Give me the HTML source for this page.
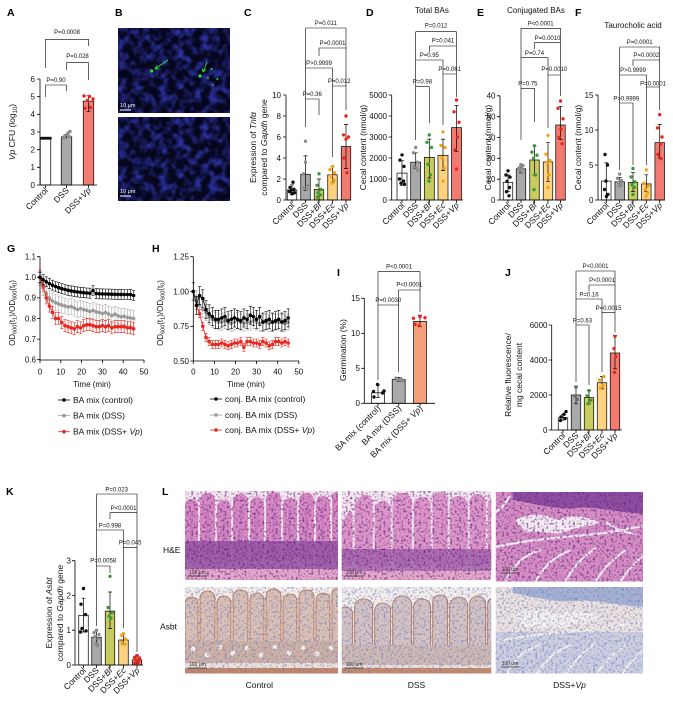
<!DOCTYPE html>
<html><head><meta charset="utf-8"><style>
html,body{margin:0;padding:0;background:#fff;}
svg{display:block;font-family:"Liberation Sans",Arial,sans-serif;}
.ax{stroke:#000;stroke-width:.8;fill:none}
.br{stroke:#000;stroke-width:.6;fill:none}
.eb{stroke:#000;stroke-width:.7;fill:none}
.tk{font-size:8px;text-anchor:end;fill:#111}
.tx{font-size:8px;text-anchor:middle;fill:#111}
.pv{font-size:6px;text-anchor:middle;fill:#111}
.yl{font-size:8.5px;text-anchor:middle;fill:#111}
.xl{font-size:8.5px;text-anchor:end;fill:#111}
.ti{font-size:8px;text-anchor:middle;fill:#111}
.L{font-size:10.5px;font-weight:bold;fill:#000}
.lg{font-size:8.5px;fill:#111}
.k{fill:#111}.g{fill:#8c8c8c}.gr{fill:#3b9a3b}.o{fill:#f4a21c}.r{fill:#e8261e}
.bw{fill:#fff;stroke:#000;stroke-width:.7}
.bg{fill:#a9a9a9;stroke:#000;stroke-width:.7}
.bb{fill:#c8cb5e;stroke:#000;stroke-width:.7}
.be{fill:#fed27e;stroke:#000;stroke-width:.7}
.bv{fill:#f27b71;stroke:#000;stroke-width:.7}
</style></head><body>
<svg width="673" height="706" viewBox="0 0 673 706">
<defs>
<filter id="nuc" x="0" y="0" width="100%" height="100%" color-interpolation-filters="sRGB"><feTurbulence type="fractalNoise" baseFrequency="0.12" numOctaves="2" seed="7"/><feColorMatrix values="0 0 0 0 0.17  0 0 0 0 0.19  0 0 0 0 0.62  2.8 0 0 0 -1.15"/></filter>
<filter id="spk" x="0" y="0" width="100%" height="100%" color-interpolation-filters="sRGB"><feTurbulence type="fractalNoise" baseFrequency="0.45" numOctaves="1" seed="4"/><feColorMatrix values="0 0 0 0 0.4  0 0 0 0 0.12  0 0 0 0 0.5  2.6 0 0 0 -1.25"/></filter>
<filter id="spb" x="0" y="0" width="100%" height="100%" color-interpolation-filters="sRGB"><feTurbulence type="fractalNoise" baseFrequency="0.45" numOctaves="1" seed="9"/><feColorMatrix values="0 0 0 0 0.42  0 0 0 0 0.48  0 0 0 0 0.75  2.4 0 0 0 -1.15"/></filter>
<marker id="mGk" markerUnits="userSpaceOnUse" markerWidth="10" markerHeight="30" viewBox="-5 -15 10 30" refX="0" refY="0" overflow="visible"><path d="M0-5V5M-1.6-5H1.6M-1.6 5H1.6" stroke="#000" stroke-width=".6" fill="none"/><circle r="1.8" fill="#000"/></marker>
<marker id="mGg" markerUnits="userSpaceOnUse" markerWidth="10" markerHeight="30" viewBox="-5 -15 10 30" refX="0" refY="0" overflow="visible"><path d="M0-8V8M-1.6-8H1.6M-1.6 8H1.6" stroke="#aaa" stroke-width=".6" fill="none"/><circle r="1.8" fill="#999"/></marker>
<marker id="mGr" markerUnits="userSpaceOnUse" markerWidth="10" markerHeight="30" viewBox="-5 -15 10 30" refX="0" refY="0" overflow="visible"><path d="M0-6V6M-1.6-6H1.6M-1.6 6H1.6" stroke="#e8261e" stroke-width=".6" fill="none"/><circle r="1.8" fill="#e8261e"/></marker>
<marker id="mHk" markerUnits="userSpaceOnUse" markerWidth="10" markerHeight="30" viewBox="-5 -15 10 30" refX="0" refY="0" overflow="visible"><path d="M0-9V9M-1.6-9H1.6M-1.6 9H1.6" stroke="#000" stroke-width=".6" fill="none"/><circle r="1.8" fill="#000"/></marker>
<marker id="mHg" markerUnits="userSpaceOnUse" markerWidth="10" markerHeight="30" viewBox="-5 -15 10 30" refX="0" refY="0" overflow="visible"><path d="M0-8V8M-1.6-8H1.6M-1.6 8H1.6" stroke="#aaa" stroke-width=".6" fill="none"/><circle r="1.8" fill="#999"/></marker>
<marker id="mHr" markerUnits="userSpaceOnUse" markerWidth="10" markerHeight="30" viewBox="-5 -15 10 30" refX="0" refY="0" overflow="visible"><path d="M0-4V4M-1.6-4H1.6M-1.6 4H1.6" stroke="#e8261e" stroke-width=".6" fill="none"/><circle r="1.8" fill="#e8261e"/></marker>
</defs>

<!-- Panel letters -->
<text class="L" x="7" y="16">A</text>
<text class="L" x="115" y="16">B</text>
<text class="L" x="244" y="16">C</text>
<text class="L" x="366" y="16">D</text>
<text class="L" x="477" y="16">E</text>
<text class="L" x="575" y="16">F</text>
<text class="L" x="7" y="252">G</text>
<text class="L" x="152" y="252">H</text>
<text class="L" x="337" y="276">I</text>
<text class="L" x="505" y="276">J</text>
<text class="L" x="6" y="495">K</text>
<text class="L" x="162" y="495">L</text>

<!-- ===== Panel A ===== -->
<rect class="bw" x="40.25" y="138.2" width="10.5" height="46.8"/>
<rect class="bg" x="61.25" y="136.8" width="10.5" height="48.2"/>
<rect class="bv" x="83.25" y="101.1" width="10.5" height="83.9" style="fill:#f27c74"/>
<path class="eb" d="M66.5 134.6V138.2M64.5 134.6H68.5M88.5 95.8V111.7M86.5 95.8H90.5M86.5 111.7H90.5"/>
<g class="k"><circle cx="41.5" cy="138.2" r="1.5"/><circle cx="43" cy="138.2" r="1.5"/><circle cx="44.5" cy="138.2" r="1.5"/><circle cx="46" cy="138.2" r="1.5"/><circle cx="47.5" cy="138.2" r="1.5"/><circle cx="49" cy="138.2" r="1.5"/><circle cx="50.3" cy="138.2" r="1.5"/></g>
<g class="g"><circle cx="63" cy="137.5" r="1.7"/><circle cx="65" cy="135.5" r="1.7"/><circle cx="68" cy="133" r="1.7"/><circle cx="70" cy="131.5" r="1.7"/><circle cx="64.5" cy="138" r="1.7"/><circle cx="69" cy="136.5" r="1.7"/></g>
<g class="r"><circle cx="84" cy="96" r="1.7"/><circle cx="89.5" cy="96.5" r="1.7"/><circle cx="93" cy="99" r="1.7"/><circle cx="87.5" cy="100.5" r="1.7"/><circle cx="85" cy="108.3" r="1.7"/><circle cx="90.5" cy="107.5" r="1.7"/></g>
<path class="ax" d="M40 79V185H97M37 79H40M37 96.7H40M37 114.3H40M37 132H40M37 149.7H40M37 167.3H40M37 185H40M45.5 185V188M66.5 185V188M88.5 185V188"/>
<text class="tk" x="35" y="81.8">6</text><text class="tk" x="35" y="99.5">5</text><text class="tk" x="35" y="117.1">4</text><text class="tk" x="35" y="134.8">3</text><text class="tk" x="35" y="152.5">2</text><text class="tk" x="35" y="170.1">1</text><text class="tk" x="35" y="187.8">0</text>
<text class="yl" transform="translate(15,132) rotate(-90)"><tspan font-style="italic">Vp</tspan> CFU (log<tspan font-size="6" dy="2">10</tspan><tspan dy="-2">)</tspan></text>
<text class="xl" transform="translate(48.5,191) rotate(-45)">Control</text>
<text class="xl" transform="translate(69.5,191) rotate(-45)">DSS</text>
<text class="xl" transform="translate(91.5,191) rotate(-45)">DSS+<tspan font-style="italic">Vp</tspan></text>
<path class="br" d="M45.5 68V39.3H88.5V46"/>
<path class="br" d="M66.5 70V62.7H88.5V80"/>
<path class="br" d="M45.5 97V85H66.5V91"/>
<text class="pv" x="67" y="34">P=0.0008</text>
<text class="pv" x="77.5" y="58">P=0.028</text>
<text class="pv" x="56" y="82">P=0.90</text>

<!-- ===== Panel B ===== -->
<svg x="118" y="28" width="112" height="85">
<rect width="112" height="85" fill="#06071f"/>
<rect width="112" height="85" filter="url(#nuc)"/>
<g fill="#2ee03a"><circle cx="33.7" cy="43" r="1.6"/><circle cx="82" cy="48" r="1.6"/><circle cx="93.7" cy="41" r="1"/><circle cx="99.3" cy="51" r="1"/><circle cx="90" cy="50" r="0.9"/><circle cx="95" cy="57" r="0.8"/></g>
<path d="M50 32L37 41M37 41L41.5 40.8M37 41L38.8 37.2" stroke="#2ee03a" stroke-width="0.9" fill="none"/>
<path d="M89 34L85 44M85 44L88 41.3M85 44L84.3 40.5" stroke="#2ee03a" stroke-width="0.9" fill="none"/>
<text x="2" y="79" font-size="5.5" fill="#fff">10 μm</text>
<path d="M2 82H13" stroke="#fff" stroke-width="1"/>
</svg>
<svg x="118" y="117" width="112" height="84">
<rect width="112" height="84" fill="#06071f"/>
<rect width="112" height="84" filter="url(#nuc)"/>
<text x="2" y="76" font-size="5.5" fill="#fff">10 μm</text>
<path d="M2 79H13" stroke="#fff" stroke-width="1"/>
</svg>

<!-- ===== Panel C ===== -->
<rect class="bw" x="287.25" y="190" width="9.5" height="10"/>
<rect class="bg" x="300.75" y="174.3" width="9.5" height="25.7"/>
<rect class="bb" x="314.25" y="189.5" width="9.5" height="10.5"/>
<rect class="be" x="327.75" y="174.8" width="9.5" height="25.2"/>
<rect class="bv" x="341.25" y="146.5" width="9.5" height="53.5"/>
<path class="eb" d="M292 184.8V194.8M290 184.8H294M290 194.8H294M305.5 155.9V190.5M303.5 155.9H307.5M303.5 190.5H307.5M319 179V200M317 179H321M332.5 166.4V182.2M330.5 166.4H334.5M330.5 182.2H334.5M346 124.4V168.5M344 124.4H348M344 168.5H348"/>
<g class="k"><circle cx="293" cy="182.2" r="1.7"/><circle cx="290" cy="187.4" r="1.7"/><circle cx="294" cy="189.5" r="1.7"/><circle cx="291" cy="190.6" r="1.7"/><circle cx="289.5" cy="191.6" r="1.7"/><circle cx="294.5" cy="192.7" r="1.7"/><circle cx="292" cy="193.7" r="1.7"/></g>
<g class="g"><circle cx="305.5" cy="141.2" r="1.7"/><circle cx="305.5" cy="162.2" r="1.7"/><circle cx="303.5" cy="173.8" r="1.7"/><circle cx="307.5" cy="185.3" r="1.7"/><circle cx="304" cy="187.4" r="1.7"/><circle cx="307" cy="189.5" r="1.7"/></g>
<g class="gr"><circle cx="319" cy="173.8" r="1.7"/><circle cx="317" cy="185.3" r="1.7"/><circle cx="321" cy="189.5" r="1.7"/><circle cx="318" cy="192.7" r="1.7"/><circle cx="320.5" cy="194.8" r="1.7"/><circle cx="317.5" cy="196.9" r="1.7"/></g>
<g class="o"><circle cx="332.5" cy="166.4" r="1.7"/><circle cx="330" cy="169.6" r="1.7"/><circle cx="334.5" cy="172.7" r="1.7"/><circle cx="331" cy="175.9" r="1.7"/><circle cx="334" cy="180.1" r="1.7"/><circle cx="332" cy="183.2" r="1.7"/></g>
<g class="r"><circle cx="346" cy="116" r="1.7"/><circle cx="343.5" cy="134.9" r="1.7"/><circle cx="348.5" cy="137" r="1.7"/><circle cx="346" cy="139.1" r="1.7"/><circle cx="344" cy="158" r="1.7"/><circle cx="347" cy="172.7" r="1.7"/></g>
<path class="ax" d="M286 95V200H351M283 95H286M283 116H286M283 137H286M283 158H286M283 179H286M283 200H286M292 200V203M305.5 200V203M319 200V203M332.5 200V203M346 200V203"/>
<text class="tk" x="281" y="97.8">10</text><text class="tk" x="281" y="118.8">8</text><text class="tk" x="281" y="139.8">6</text><text class="tk" x="281" y="160.8">4</text><text class="tk" x="281" y="181.8">2</text><text class="tk" x="281" y="202.8">0</text>
<text class="yl" transform="translate(256,147.5) rotate(-90)">Expression of <tspan font-style="italic">Tnfα</tspan></text>
<text class="yl" transform="translate(267,147.5) rotate(-90)">compared to <tspan font-style="italic">Gapdh</tspan> gene</text>
<text class="xl" transform="translate(295,206) rotate(-45)">Control</text>
<text class="xl" transform="translate(308.5,206) rotate(-45)">DSS</text>
<text class="xl" transform="translate(322,206) rotate(-45)">DSS+<tspan font-style="italic">Bf</tspan></text>
<text class="xl" transform="translate(335.5,206) rotate(-45)">DSS+<tspan font-style="italic">Ec</tspan></text>
<text class="xl" transform="translate(349,206) rotate(-45)">DSS+<tspan font-style="italic">Vp</tspan></text>
<path class="br" d="M305.5 28V127M346 28V110M305.5 28H346M319 56V48H346M305.5 68H332.5V157M332.5 86H346M305.5 99H319V115"/>
<text class="pv" x="325.8" y="25">P=0.011</text>
<text class="pv" x="332.5" y="45">P=0.0001</text>
<text class="pv" x="319" y="65">P&gt;0.9999</text>
<text class="pv" x="339.2" y="83">P=0.012</text>
<text class="pv" x="312.2" y="96">P=0.36</text>

<!-- ===== Panel D ===== -->
<text class="ti" x="432" y="13">Total BAs</text>
<rect class="bw" x="397" y="173.1" width="10" height="26.9"/>
<rect class="bg" x="410.7" y="162.2" width="10" height="37.8"/>
<rect class="bb" x="424.3" y="157.4" width="10" height="42.6"/>
<rect class="be" x="438" y="155.3" width="10" height="44.7"/>
<rect class="bv" x="451.5" y="127.6" width="10" height="72.4"/>
<path class="eb" d="M402 160.7V185.3M400 160.7H404M400 185.3H404M415.7 152.8V168.5M413.7 152.8H417.7M413.7 168.5H417.7M429.3 139.1V178M427.3 139.1H431.3M427.3 178H431.3M443 139.1V170.6M441 139.1H445M441 170.6H445M456.5 105.5V151.7M454.5 105.5H458.5M454.5 151.7H458.5"/>
<g class="k"><circle cx="402" cy="154.9" r="1.7"/><circle cx="400" cy="160.1" r="1.7"/><circle cx="404" cy="166.4" r="1.7"/><circle cx="399.5" cy="179" r="1.7"/><circle cx="403.5" cy="181.1" r="1.7"/><circle cx="401" cy="183.2" r="1.7"/><circle cx="404.5" cy="184.3" r="1.7"/></g>
<g class="g"><circle cx="415.7" cy="147.5" r="1.7"/><circle cx="413.5" cy="152.8" r="1.7"/><circle cx="417.5" cy="162.2" r="1.7"/><circle cx="414" cy="166.4" r="1.7"/><circle cx="416.5" cy="168.5" r="1.7"/><circle cx="418" cy="170.6" r="1.7"/></g>
<g class="gr"><circle cx="429.3" cy="134.9" r="1.7"/><circle cx="427" cy="142.3" r="1.7"/><circle cx="431.5" cy="147.5" r="1.7"/><circle cx="428" cy="164.3" r="1.7"/><circle cx="430.5" cy="174.8" r="1.7"/><circle cx="429" cy="181.1" r="1.7"/></g>
<g class="o"><circle cx="443" cy="131.8" r="1.7"/><circle cx="441" cy="145.4" r="1.7"/><circle cx="445" cy="147.5" r="1.7"/><circle cx="442" cy="158" r="1.7"/><circle cx="444.5" cy="168.5" r="1.7"/><circle cx="443" cy="181.1" r="1.7"/></g>
<g class="r"><circle cx="456.5" cy="100" r="1.7"/><circle cx="454" cy="111.8" r="1.7"/><circle cx="459" cy="122.3" r="1.7"/><circle cx="457.5" cy="137" r="1.7"/><circle cx="455" cy="150" r="1.7"/><circle cx="456.5" cy="169.1" r="1.7"/></g>
<path class="ax" d="M391.7 95V200H463M388.7 95H391.7M388.7 116H391.7M388.7 137H391.7M388.7 158H391.7M388.7 179H391.7M388.7 200H391.7M402 200V203M415.7 200V203M429.3 200V203M443 200V203M456.5 200V203"/>
<text class="tk" x="387" y="97.8">5000</text><text class="tk" x="387" y="118.8">4000</text><text class="tk" x="387" y="139.8">3000</text><text class="tk" x="387" y="160.8">2000</text><text class="tk" x="387" y="181.8">1000</text><text class="tk" x="387" y="202.8">0</text>
<text class="yl" transform="translate(366,147.5) rotate(-90)">Cecal content (nmol/g)</text>
<text class="xl" transform="translate(405,206) rotate(-45)">Control</text>
<text class="xl" transform="translate(418.7,206) rotate(-45)">DSS</text>
<text class="xl" transform="translate(432.3,206) rotate(-45)">DSS+<tspan font-style="italic">Bf</tspan></text>
<text class="xl" transform="translate(446,206) rotate(-45)">DSS+<tspan font-style="italic">Ec</tspan></text>
<text class="xl" transform="translate(459.5,206) rotate(-45)">DSS+<tspan font-style="italic">Vp</tspan></text>
<path class="br" d="M415.7 31.7V140M456.5 31.7V97M415.7 31.7H456.5M429.3 52V46H456.5M415.7 60H443V125M443 74H456.5M415.7 86.7H429.3V123"/>
<text class="pv" x="436" y="27.5">P=0.012</text>
<text class="pv" x="443" y="42.5">P=0.041</text>
<text class="pv" x="429.3" y="57">P=0.95</text>
<text class="pv" x="449.7" y="71">P=0.061</text>
<text class="pv" x="422.5" y="83.5">P=0.98</text>

<!-- ===== Panel E ===== -->
<text class="ti" x="536" y="13">Conjugated BAs</text>
<rect class="bw" x="503.25" y="182.3" width="9.5" height="17.7"/>
<rect class="bg" x="516.25" y="168.8" width="9.5" height="31.2"/>
<rect class="bb" x="529.75" y="160" width="9.5" height="40"/>
<rect class="be" x="543.25" y="161.9" width="9.5" height="38.1"/>
<rect class="bv" x="555.75" y="125" width="9.5" height="75"/>
<path class="eb" d="M508 175V191.7M506 175H510M506 191.7H510M521 164.6V172.9M519 164.6H523M519 172.9H523M534.5 145.8V175M532.5 145.8H536.5M532.5 175H536.5M548 142.7V181.3M546 142.7H550M546 181.3H550M560.5 106.3V139.6M558.5 106.3H562.5M558.5 139.6H562.5"/>
<g class="k"><circle cx="508" cy="170.8" r="1.7"/><circle cx="506" cy="175" r="1.7"/><circle cx="510" cy="177.1" r="1.7"/><circle cx="507" cy="181.3" r="1.7"/><circle cx="509.5" cy="187.5" r="1.7"/><circle cx="506.5" cy="191.7" r="1.7"/><circle cx="509" cy="195.8" r="1.7"/></g>
<g class="g"><circle cx="521" cy="164.6" r="1.7"/><circle cx="523" cy="165.6" r="1.7"/><circle cx="519" cy="167.7" r="1.7"/><circle cx="522" cy="168.8" r="1.7"/><circle cx="520" cy="170.8" r="1.7"/><circle cx="522.5" cy="172.9" r="1.7"/></g>
<g class="gr"><circle cx="534.5" cy="145.8" r="1.7"/><circle cx="532" cy="152.1" r="1.7"/><circle cx="537" cy="155.2" r="1.7"/><circle cx="533.5" cy="158.3" r="1.7"/><circle cx="535.5" cy="175" r="1.7"/><circle cx="534" cy="189.6" r="1.7"/></g>
<g class="o"><circle cx="548" cy="135.4" r="1.7"/><circle cx="546" cy="154.2" r="1.7"/><circle cx="550" cy="160.4" r="1.7"/><circle cx="547" cy="162.5" r="1.7"/><circle cx="549" cy="175" r="1.7"/><circle cx="548" cy="187.5" r="1.7"/></g>
<g class="r"><circle cx="560.5" cy="101" r="1.7"/><circle cx="558" cy="108.3" r="1.7"/><circle cx="563" cy="118.8" r="1.7"/><circle cx="561" cy="129.2" r="1.7"/><circle cx="559" cy="137.5" r="1.7"/><circle cx="562" cy="143.8" r="1.7"/></g>
<path class="ax" d="M500 95.8V200H566M497 95.8H500M497 116.7H500M497 137.5H500M497 158.3H500M497 179.2H500M497 200H500M508 200V203M521 200V203M534.5 200V203M548 200V203M560.5 200V203"/>
<text class="tk" x="495.5" y="98.6">40</text><text class="tk" x="495.5" y="119.5">50</text><text class="tk" x="495.5" y="140.3">30</text><text class="tk" x="495.5" y="161.1">20</text><text class="tk" x="495.5" y="182">10</text><text class="tk" x="495.5" y="202.8">0</text>
<text class="yl" transform="translate(491,147.5) rotate(-90)">Cecal content (nmol/g)</text>
<text class="xl" transform="translate(511,206) rotate(-45)">Control</text>
<text class="xl" transform="translate(524,206) rotate(-45)">DSS</text>
<text class="xl" transform="translate(537.5,206) rotate(-45)">DSS+<tspan font-style="italic">Bf</tspan></text>
<text class="xl" transform="translate(551,206) rotate(-45)">DSS+<tspan font-style="italic">Ec</tspan></text>
<text class="xl" transform="translate(563.5,206) rotate(-45)">DSS+<tspan font-style="italic">Vp</tspan></text>
<path class="br" d="M521 28.3V140M560.5 28.3V96M521 28.3H560.5M534.5 49V42.7H560.5M521 57.7H548V128M548 75H560.5M521 88.3H534.5V122"/>
<text class="pv" x="540.7" y="25.5">P&lt;0.0001</text>
<text class="pv" x="547.5" y="40">P=0.0010</text>
<text class="pv" x="534.5" y="55">P=0.74</text>
<text class="pv" x="554.3" y="71">P=0.0010</text>
<text class="pv" x="527.8" y="85.5">P=0.75</text>

<!-- ===== Panel F ===== -->
<text class="ti" x="633" y="28">Taurocholic acid</text>
<rect class="bw" x="601.55" y="181.1" width="9.5" height="18.9"/>
<rect class="bg" x="614.95" y="181.8" width="9.5" height="18.2"/>
<rect class="bb" x="628.25" y="182.5" width="9.5" height="17.5"/>
<rect class="be" x="641.55" y="183.9" width="9.5" height="16.1"/>
<rect class="bv" x="654.95" y="142.6" width="9.5" height="57.4"/>
<path class="eb" d="M606.3 162.9V200M604.3 162.9H608.3M619.7 177.6V186M617.7 177.6H621.7M617.7 186H621.7M633 172.7V191.6M631 172.7H635M631 191.6H635M646.3 174.8V191.6M644.3 174.8H648.3M644.3 191.6H648.3M659.7 124.4V158M657.7 124.4H661.7M657.7 158H661.7"/>
<g class="k"><circle cx="605" cy="154.5" r="1.7"/><circle cx="607.5" cy="165" r="1.7"/><circle cx="606" cy="181.1" r="1.7"/><circle cx="604.5" cy="189.5" r="1.7"/><circle cx="608" cy="194.4" r="1.7"/><circle cx="606.5" cy="196.5" r="1.7"/></g>
<g class="g"><circle cx="619.7" cy="174.1" r="1.7"/><circle cx="617.5" cy="178.3" r="1.7"/><circle cx="621.5" cy="180.4" r="1.7"/><circle cx="618.5" cy="182.5" r="1.7"/><circle cx="621" cy="184.6" r="1.7"/><circle cx="619" cy="186" r="1.7"/></g>
<g class="gr"><circle cx="633" cy="168.5" r="1.7"/><circle cx="631" cy="176.9" r="1.7"/><circle cx="635" cy="181.8" r="1.7"/><circle cx="632" cy="184.6" r="1.7"/><circle cx="634.5" cy="187.4" r="1.7"/><circle cx="633" cy="194.4" r="1.7"/></g>
<g class="o"><circle cx="646.3" cy="169.9" r="1.7"/><circle cx="644" cy="183.2" r="1.7"/><circle cx="648.5" cy="186" r="1.7"/><circle cx="645.5" cy="189.5" r="1.7"/><circle cx="647.5" cy="193" r="1.7"/><circle cx="646" cy="196.5" r="1.7"/></g>
<g class="r"><circle cx="659.7" cy="114.6" r="1.7"/><circle cx="657.5" cy="127.9" r="1.7"/><circle cx="662" cy="137" r="1.7"/><circle cx="660.5" cy="144" r="1.7"/><circle cx="658" cy="154.5" r="1.7"/><circle cx="661" cy="158.7" r="1.7"/></g>
<path class="ax" d="M598 95V200H665M595 95H598M595 130H598M595 165H598M595 200H598M606.3 200V203M619.7 200V203M633 200V203M646.3 200V203M659.7 200V203"/>
<text class="tk" x="593.5" y="97.8">15</text><text class="tk" x="593.5" y="132.8">10</text><text class="tk" x="593.5" y="167.8">5</text><text class="tk" x="593.5" y="202.8">0</text>
<text class="yl" transform="translate(581,147.5) rotate(-90)">Cecal content (nmol/g)</text>
<text class="xl" transform="translate(609.3,206) rotate(-45)">Control</text>
<text class="xl" transform="translate(622.7,206) rotate(-45)">DSS</text>
<text class="xl" transform="translate(636,206) rotate(-45)">DSS+<tspan font-style="italic">Bf</tspan></text>
<text class="xl" transform="translate(649.3,206) rotate(-45)">DSS+<tspan font-style="italic">Ec</tspan></text>
<text class="xl" transform="translate(662.7,206) rotate(-45)">DSS+<tspan font-style="italic">Vp</tspan></text>
<path class="br" d="M619.7 47V170M659.7 47V110M619.7 47H659.7M633 66V60H659.7M619.7 75H646.3V165M646.3 87H659.7M619.7 103H633V165"/>
<text class="pv" x="639.7" y="44">P=0.0001</text>
<text class="pv" x="646.3" y="57">P=0.0002</text>
<text class="pv" x="633" y="72">P&gt;0.9999</text>
<text class="pv" x="653" y="85.5">P=0.0001</text>
<text class="pv" x="626.3" y="100.5">P&gt;0.9999</text>

<!-- ===== Panel G ===== -->
<polyline points="40,277.3 43.1,287.6 46.2,294 49.4,298.1 52.5,300.9 55.6,302.7 58.7,304.1 61.8,305.1 65,306 68.1,307 71.2,306.5 74.3,308.1 77.4,309.5 80.6,308.6 83.7,309.7 86.8,310.3 89.9,311.5 93,310.4 96.2,311.9 99.3,312.5 102.4,313.5 105.5,312.6 108.6,314.1 111.8,315.6 114.9,314.2 118,315.8 121.1,316.8 124.2,316.3 127.4,317.4 130.5,317.9 133.6,318.5" fill="none" stroke="#999" stroke-width=".8" marker-start="url(#mGg)" marker-mid="url(#mGg)" marker-end="url(#mGg)"/>
<polyline points="40,277.3 43.1,285.5 46.2,297.9 49.4,306.1 52.5,312.3 55.6,318.5 58.7,318.5 61.8,322.6 65,325.7 68.1,326.7 71.2,327.8 74.3,328.8 77.4,326.7 80.6,327.8 83.7,325.7 86.8,324.7 89.9,324.7 93,325.7 96.2,326.7 99.3,326.7 102.4,325.7 105.5,326.7 108.6,325.7 111.8,327.8 114.9,326.7 118,326.7 121.1,326.7 124.2,326.7 127.4,327.8 130.5,327.8 133.6,328.8" fill="none" stroke="#e8261e" stroke-width=".8" marker-start="url(#mGr)" marker-mid="url(#mGr)" marker-end="url(#mGr)"/>
<polyline points="40,277.3 43.1,279.7 46.2,281.8 49.4,283.6 52.5,285.2 55.6,286.5 58.7,287.7 61.8,288.7 65,289.5 68.1,290.3 71.2,290.9 74.3,291.4 77.4,291.9 80.6,292.3 83.7,292.7 86.8,293 89.9,293.2 93,290.5 96.2,293.6 99.3,293.8 102.4,293.9 105.5,294 108.6,294.1 111.8,294.2 114.9,294.3 118,294.4 121.1,294.4 124.2,294.5 127.4,294.5 130.5,294.6 133.6,295.5" fill="none" stroke="#000" stroke-width=".8" marker-start="url(#mGk)" marker-mid="url(#mGk)" marker-end="url(#mGk)"/>
<path class="ax" d="M40 256.7V360H144M37 256.7H40M37 277.3H40M37 297.9H40M37 318.5H40M37 339.1H40M37 359.7H40M40 360V363M60.8 360V363M81.6 360V363M102.4 360V363M123.2 360V363M144 360V363"/>
<text class="tk" x="36" y="259.5">1.1</text><text class="tk" x="36" y="280.1">1.0</text><text class="tk" x="36" y="300.7">0.9</text><text class="tk" x="36" y="321.3">0.8</text><text class="tk" x="36" y="341.9">0.7</text><text class="tk" x="36" y="362.5">0.6</text>
<text class="tx" x="40" y="374.5">0</text><text class="tx" x="60.8" y="374.5">10</text><text class="tx" x="81.6" y="374.5">20</text><text class="tx" x="102.4" y="374.5">30</text><text class="tx" x="123.2" y="374.5">40</text><text class="tx" x="144" y="374.5">50</text>
<text class="yl" x="92" y="387" style="font-size:8px">Time (min)</text>
<text class="yl" style="font-size:8px" transform="translate(15,313) rotate(-90)">OD<tspan font-size="5.5" dy="1.5">600</tspan><tspan dy="-1.5">(t</tspan><tspan font-size="5.5" dy="1.5">1</tspan><tspan dy="-1.5">)/OD</tspan><tspan font-size="5.5" dy="1.5">600</tspan><tspan dy="-1.5">(t</tspan><tspan font-size="5.5" dy="1.5">0</tspan><tspan dy="-1.5">)</tspan></text>
<path d="M58 400H70" stroke="#000" stroke-width=".8"/><circle cx="64" cy="400" r="1.8" fill="#000"/>
<text class="lg" x="73" y="403">BA mix (control)</text>
<path d="M58 415.7H70" stroke="#999" stroke-width=".8"/><circle cx="64" cy="415.7" r="1.8" fill="#999"/>
<text class="lg" x="73" y="418.7">BA mix (DSS)</text>
<path d="M58 431.7H70" stroke="#e8261e" stroke-width=".8"/><circle cx="64" cy="431.7" r="1.8" fill="#e8261e"/>
<text class="lg" x="73" y="434.7">BA mix (DSS+ <tspan font-style="italic">Vp</tspan>)</text>

<!-- ===== Panel H ===== -->
<polyline points="193.3,291.5 196.5,298.5 199.6,305.4 202.8,309.6 206,312.4 209.1,316.6 212.3,319.3 215.5,320.7 218.6,322.1 221.8,322.1 224.9,320.7 228.1,322.1 231.3,323.5 234.4,322.1 237.6,320.7 240.8,322.1 243.9,323.5 247.1,322.1 250.3,322.1 253.4,320.7 256.6,322.1 259.7,323.5 262.9,322.1 266.1,322.1 269.2,323.5 272.4,322.1 275.6,322.1 278.7,322.1 281.9,322.1 285,323.5 288.2,322.1" fill="none" stroke="#999" stroke-width=".8" marker-start="url(#mHg)" marker-mid="url(#mHg)" marker-end="url(#mHg)"/>
<polyline points="196.5,305.4 199.6,313.8 202.8,326.3 206,337.4 209.1,341.6 212.3,344.4 215.5,344.4 218.6,344.4 221.8,343 224.9,344.4 228.1,345.8 231.3,344.4 234.4,343 237.6,343 240.8,341.6 243.9,347.2 247.1,341.6 250.3,341.6 253.4,343 256.6,343 259.7,344.4 262.9,341.6 266.1,343 269.2,345.8 272.4,344.4 275.6,341.6 278.7,341.6 281.9,343 285,341.6 288.2,343" fill="none" stroke="#e8261e" stroke-width=".8" marker-start="url(#mHr)" marker-mid="url(#mHr)" marker-end="url(#mHr)"/>
<polyline points="193.3,291.5 196.5,305.4 199.6,295.7 202.8,298.5 206,309.6 209.1,313.8 212.3,316.6 215.5,319.3 218.6,319.3 221.8,317.9 224.9,316.6 228.1,320.7 231.3,319.3 234.4,317.9 237.6,319.3 240.8,320.7 243.9,317.9 247.1,319.3 250.3,315.2 253.4,316.6 256.6,319.3 259.7,316.6 262.9,322.1 266.1,320.7 269.2,319.3 272.4,322.1 275.6,320.7 278.7,319.3 281.9,322.1 285,320.7 288.2,317.9" fill="none" stroke="#000" stroke-width=".8" marker-start="url(#mHk)" marker-mid="url(#mHk)" marker-end="url(#mHk)"/>
<path class="ax" d="M193.3 256.7V361H299M190.3 256.7H193.3M190.3 291.5H193.3M190.3 326.3H193.3M190.3 361H193.3M193.3 361V364M214.4 361V364M235.5 361V364M256.6 361V364M277.7 361V364M298.8 361V364"/>
<text class="tk" x="189" y="259.5">1.25</text><text class="tk" x="189" y="294.3">1.00</text><text class="tk" x="189" y="329.1">0.75</text><text class="tk" x="189" y="363.8">0.50</text>
<text class="tx" x="193.3" y="374.5">0</text><text class="tx" x="214.4" y="374.5">10</text><text class="tx" x="235.5" y="374.5">20</text><text class="tx" x="256.6" y="374.5">30</text><text class="tx" x="277.7" y="374.5">40</text><text class="tx" x="298.8" y="374.5">50</text>
<text class="yl" x="246" y="387" style="font-size:8px">Time (min)</text>
<text class="yl" style="font-size:8px" transform="translate(163,313) rotate(-90)">OD<tspan font-size="5.5" dy="1.5">600</tspan><tspan dy="-1.5">(t</tspan><tspan font-size="5.5" dy="1.5">1</tspan><tspan dy="-1.5">)/OD</tspan><tspan font-size="5.5" dy="1.5">600</tspan><tspan dy="-1.5">(t</tspan><tspan font-size="5.5" dy="1.5">0</tspan><tspan dy="-1.5">)</tspan></text>
<path d="M210 399H222" stroke="#000" stroke-width=".8"/><circle cx="216" cy="399" r="1.8" fill="#000"/>
<text class="lg" x="225" y="402">conj. BA mix (control)</text>
<path d="M210 415H222" stroke="#999" stroke-width=".8"/><circle cx="216" cy="415" r="1.8" fill="#999"/>
<text class="lg" x="225" y="418">conj. BA mix (DSS)</text>
<path d="M210 430H222" stroke="#e8261e" stroke-width=".8"/><circle cx="216" cy="430" r="1.8" fill="#e8261e"/>
<text class="lg" x="225" y="433">conj. BA mix (DSS+ <tspan font-style="italic">Vp</tspan>)</text>

<!-- ===== Panel I ===== -->
<rect class="bw" x="371.5" y="392.8" width="13" height="10.5"/>
<rect class="bg" x="392.2" y="379.5" width="13" height="23.8"/>
<rect class="bv" x="413.5" y="321.4" width="13" height="81.9" style="fill:#f6a07c"/>
<path class="eb" d="M378 385.1V397.7M376 385.1H380M376 397.7H380M398.7 377.4V381.6M396.7 377.4H400.7M396.7 381.6H400.7M420 315.1V326.3M418 315.1H422M418 326.3H422"/>
<g class="k"><circle cx="377.5" cy="384.5" r="1.7"/><circle cx="384" cy="391" r="1.7"/><circle cx="373.5" cy="391.5" r="1.7"/><circle cx="374" cy="397" r="1.7"/><circle cx="382.5" cy="393" r="1.7"/></g>
<g class="g"><circle cx="396" cy="378.1" r="1.7"/><circle cx="401" cy="378.8" r="1.7"/><circle cx="398.7" cy="380.2" r="1.7"/><circle cx="403" cy="380.9" r="1.7"/></g>
<g class="r"><circle cx="413.5" cy="318.3" r="1.7"/><circle cx="420" cy="316.7" r="1.7"/><circle cx="425" cy="317.7" r="1.7"/><circle cx="419" cy="325.7" r="1.7"/><circle cx="415" cy="324.3" r="1.7"/></g>
<path class="ax" d="M364.3 298.3V403.3H435M361.3 298.3H364.3M361.3 333.3H364.3M361.3 368.3H364.3M361.3 403.3H364.3M378 403.3V406.3M398.7 403.3V406.3M420 403.3V406.3"/>
<text class="tk" x="360" y="301.1">15</text><text class="tk" x="360" y="336.1">10</text><text class="tk" x="360" y="371.1">5</text><text class="tk" x="360" y="406.1">0</text>
<text class="yl" transform="translate(346,350) rotate(-90)">Germination (%)</text>
<text class="xl" transform="translate(381,409) rotate(-45)">BA mix (control)</text>
<text class="xl" transform="translate(401.7,409) rotate(-45)">BA mix (DSS)</text>
<text class="xl" transform="translate(423,409) rotate(-45)">BA mix (DSS+ <tspan font-style="italic">Vp</tspan>)</text>
<path class="br" d="M378 380V271.7H420V312M398.7 372V290H420M378 305H398.7"/>
<text class="pv" x="399" y="268.5">P&lt;0.0001</text>
<text class="pv" x="409.3" y="286.5">P&lt;0.0001</text>
<text class="pv" x="388.3" y="302">P=0.0030</text>

<!-- ===== Panel J ===== -->
<rect class="bw" x="558.25" y="417.75" width="9.5" height="12.25"/>
<rect class="bg" x="571.25" y="395" width="9.5" height="35"/>
<rect class="bb" x="584.25" y="397.6" width="9.5" height="32.4"/>
<rect class="be" x="597.25" y="382.75" width="9.5" height="47.25"/>
<rect class="bv" x="610.25" y="353" width="9.5" height="77"/>
<path class="eb" d="M563 414.5V421M561 414.5H565M576 386.3V403.8M574 386.3H578M574 403.8H578M589 390.6V403.8M587 390.6H591M587 403.8H591M602 376.6V388.9M600 376.6H604M600 388.9H604M615 335.5V368.8M613 335.5H617M613 368.8H617"/>
<g class="k"><circle cx="566" cy="411.6" r="1.7"/><circle cx="564" cy="414.3" r="1.7"/><circle cx="561" cy="416.9" r="1.7"/><circle cx="565" cy="418.6" r="1.7"/><circle cx="560.5" cy="420.4" r="1.7"/></g>
<g fill="#666"><circle cx="576" cy="387.1" r="1.7"/><circle cx="575" cy="395.9" r="1.7"/><circle cx="577" cy="399.4" r="1.7"/></g>
<g class="gr"><circle cx="589" cy="390.6" r="1.7"/><circle cx="587" cy="395.9" r="1.7"/><circle cx="591" cy="400.3" r="1.7"/><circle cx="588" cy="403.8" r="1.7"/></g>
<g class="o"><circle cx="604" cy="376.6" r="1.7"/><circle cx="599.5" cy="380.1" r="1.7"/><circle cx="603" cy="385.4" r="1.7"/><circle cx="600.5" cy="388" r="1.7"/></g>
<g class="r"><circle cx="615" cy="336.4" r="1.7"/><circle cx="614" cy="348.6" r="1.7"/><circle cx="616" cy="356.5" r="1.7"/><circle cx="614.5" cy="372.3" r="1.7"/></g>
<path class="ax" d="M551.7 325V430H622M548.7 325H551.7M548.7 360H551.7M548.7 395H551.7M548.7 430H551.7M563 430V433M576 430V433M589 430V433M602 430V433M615 430V433"/>
<text class="tk" x="547.5" y="327.8">6000</text><text class="tk" x="547.5" y="362.8">4000</text><text class="tk" x="547.5" y="397.8">2000</text><text class="tk" x="547.5" y="432.8">0</text>
<text class="yl" transform="translate(511,375) rotate(-90)">Relative fluorescence/</text>
<text class="yl" transform="translate(522,375) rotate(-90)">mg cecal content</text>
<text class="xl" transform="translate(566,436) rotate(-45)">Control</text>
<text class="xl" transform="translate(579,436) rotate(-45)">DSS</text>
<text class="xl" transform="translate(592,436) rotate(-45)">DSS+<tspan font-style="italic">Bf</tspan></text>
<text class="xl" transform="translate(605,436) rotate(-45)">DSS+<tspan font-style="italic">Ec</tspan></text>
<text class="xl" transform="translate(618,436) rotate(-45)">DSS+<tspan font-style="italic">Vp</tspan></text>
<path class="br" d="M576 271V382M615 271V332M576 271H615M589 291V285H615M576 299H602V372M602 312.3H615M576 325H589V385"/>
<text class="pv" x="595.5" y="268">P&lt;0.0001</text>
<text class="pv" x="602" y="282">P&lt;0.0001</text>
<text class="pv" x="589" y="296.5">P=0.16</text>
<text class="pv" x="608.5" y="310">P=0.0015</text>
<text class="pv" x="582.5" y="322.5">P=0.63</text>

<!-- ===== Panel K ===== -->
<rect class="bw" x="78.75" y="615.3" width="9.5" height="49.7"/>
<rect class="bg" x="91.75" y="637.2" width="9.5" height="27.8"/>
<rect class="bb" x="105.25" y="611.1" width="9.5" height="53.9"/>
<rect class="be" x="118.75" y="640" width="9.5" height="25"/>
<rect class="bv" x="132.25" y="659.8" width="9.5" height="5.2"/>
<path class="eb" d="M83.5 598.2V632M81.5 598.2H85.5M81.5 632H85.5M96.5 630.2V644.1M94.5 630.2H98.5M94.5 644.1H98.5M110 592V628.5M108 592H112M108 628.5H112M123.5 633.7V644.1M121.5 633.7H125.5M121.5 644.1H125.5M137 655.3V663.3M135 655.3H139M135 663.3H139"/>
<g class="k"><circle cx="83.5" cy="588.5" r="1.7"/><circle cx="81" cy="604.2" r="1.7"/><circle cx="85.5" cy="614.6" r="1.7"/><circle cx="82" cy="628.5" r="1.7"/><circle cx="86" cy="630.9" r="1.7"/><circle cx="80.5" cy="632" r="1.7"/></g>
<g class="g"><circle cx="96.5" cy="630.2" r="1.7"/><circle cx="94" cy="632.7" r="1.7"/><circle cx="99" cy="634.4" r="1.7"/><circle cx="95" cy="636.5" r="1.7"/><circle cx="98" cy="638.9" r="1.7"/><circle cx="96" cy="644.1" r="1.7"/><circle cx="97.5" cy="645.9" r="1.7"/></g>
<g class="gr"><circle cx="110" cy="576.3" r="1.7"/><circle cx="108" cy="607.6" r="1.7"/><circle cx="112" cy="612.8" r="1.7"/><circle cx="109" cy="616.3" r="1.7"/><circle cx="111" cy="618" r="1.7"/></g>
<g class="o"><circle cx="123.5" cy="633.7" r="1.7"/><circle cx="121.5" cy="635.4" r="1.7"/><circle cx="125.5" cy="638.9" r="1.7"/><circle cx="122" cy="642.4" r="1.7"/><circle cx="125" cy="644.1" r="1.7"/></g>
<g class="r"><circle cx="137" cy="655.6" r="1.7"/><circle cx="134.5" cy="657.4" r="1.7"/><circle cx="139.5" cy="658" r="1.7"/><circle cx="136" cy="659.8" r="1.7"/><circle cx="138.5" cy="661.5" r="1.7"/><circle cx="135" cy="663.3" r="1.7"/></g>
<path class="ax" d="M75 560.7V665H143M72 560.7H75M72 595.5H75M72 630.2H75M72 665H75M83.5 665V668M96.5 665V668M110 665V668M123.5 665V668M137 665V668"/>
<text class="tk" x="71" y="563.5">3</text><text class="tk" x="71" y="598.3">2</text><text class="tk" x="71" y="633">1</text><text class="tk" x="71" y="667.8">0</text>
<text class="yl" transform="translate(52,613) rotate(-90)">Expression of <tspan font-style="italic">Asbt</tspan></text>
<text class="yl" transform="translate(63,613) rotate(-90)">compared to <tspan font-style="italic">Gapdh</tspan> gene</text>
<text class="xl" transform="translate(86.5,671) rotate(-45)">Control</text>
<text class="xl" transform="translate(99.5,671) rotate(-45)">DSS</text>
<text class="xl" transform="translate(113,671) rotate(-45)">DSS+<tspan font-style="italic">Bf</tspan></text>
<text class="xl" transform="translate(126.5,671) rotate(-45)">DSS+<tspan font-style="italic">Ec</tspan></text>
<text class="xl" transform="translate(140,671) rotate(-45)">DSS+<tspan font-style="italic">Vp</tspan></text>
<path class="br" d="M96.5 494V626M137 494V652M96.5 494H137M110 519V512.7H137M96.5 530H123.5V628M123.5 547.3H137M96.5 566H110V573"/>
<text class="pv" x="116.7" y="491.5">P=0.023</text>
<text class="pv" x="123.5" y="510">P&lt;0.0001</text>
<text class="pv" x="110" y="527.5">P=0.998</text>
<text class="pv" x="130.2" y="544.5">P=0.045</text>
<text class="pv" x="103.2" y="562.5">P=0.0058</text>

<!-- ===== Panel L ===== -->
<text class="lg" x="163" y="553">H&amp;E</text>
<text class="lg" x="160" y="629.5">Asbt</text>
<text class="lg" x="259.3" y="688" text-anchor="middle">Control</text>
<text class="lg" x="416.5" y="688" text-anchor="middle">DSS</text>
<text class="lg" x="569.5" y="688" text-anchor="middle">DSS+<tspan font-style="italic">Vp</tspan></text>

<!-- Control H&E -->
<svg x="185" y="491" width="153" height="89">
<rect width="153" height="89" fill="#f5e8f0"/>
<g fill="#d98dc4">
<rect x="0" y="8" width="13" height="62" rx="6"/><rect x="15" y="2" width="15" height="68" rx="7"/><rect x="32" y="9" width="14" height="61" rx="7"/><rect x="48" y="3" width="15" height="67" rx="7"/><rect x="65" y="6" width="14" height="64" rx="7"/><rect x="81" y="1" width="15" height="69" rx="7"/><rect x="98" y="7" width="14" height="63" rx="7"/><rect x="114" y="2" width="15" height="68" rx="7"/><rect x="131" y="5" width="14" height="65" rx="7"/><rect x="147" y="1" width="8" height="69" rx="4"/>
</g>
<g fill="#c47cbc" opacity=".7"><rect x="5" y="20" width="3" height="35"/><rect x="21" y="14" width="3" height="40"/><rect x="38" y="20" width="3" height="35"/><rect x="54" y="15" width="3" height="40"/><rect x="70" y="18" width="3" height="37"/><rect x="87" y="13" width="3" height="42"/><rect x="103" y="19" width="3" height="36"/><rect x="120" y="14" width="3" height="41"/><rect x="136" y="17" width="3" height="38"/></g>
<rect y="50" width="153" height="28" fill="#9a58a4" opacity=".92"/>
<rect y="78" width="153" height="11" fill="#e4a8ca"/>
<rect width="153" height="89" filter="url(#spk)"/>
<text x="4" y="83" font-size="5" fill="#333">100 μm</text>
<path d="M3 85H22" stroke="#333" stroke-width=".8"/>
</svg>
<!-- DSS H&E -->
<svg x="341.7" y="491" width="149.6" height="89">
<rect width="149.6" height="89" fill="#f5e8f0"/>
<g fill="#de98c9">
<rect x="-3" y="18" width="14" height="58" rx="7"/><rect x="13" y="4" width="18" height="72" rx="8"/><rect x="33" y="10" width="16" height="66" rx="8"/><rect x="51" y="2" width="19" height="74" rx="9"/><rect x="72" y="6" width="17" height="70" rx="8"/><rect x="91" y="1" width="15" height="75" rx="7"/><rect x="108" y="5" width="18" height="71" rx="9"/><rect x="128" y="3" width="16" height="73" rx="8"/><rect x="146" y="8" width="8" height="68" rx="4"/>
</g>
<path d="M0 0H24L10 16L0 32Z" fill="#f5e8f0"/>
<rect y="58" width="149.6" height="22" fill="#a464ac" opacity=".85"/>
<rect y="80" width="149.6" height="9" fill="#e6aacb"/>
<rect width="149.6" height="89" filter="url(#spk)"/>
<text x="4" y="83" font-size="5" fill="#333">100 μm</text>
<path d="M3 85H22" stroke="#333" stroke-width=".8"/>
</svg>
<!-- DSS+Vp H&E -->
<svg x="495.7" y="492" width="147.3" height="89.5">
<rect width="147.3" height="89.5" fill="#d690c4"/>
<path d="M17 0H147.3V22C120 20 100 14 80 16C60 18 40 12 17 8Z" fill="#8e4f9f"/>
<path d="M20 28C35 20 50 22 62 28C75 22 90 24 104 30C96 36 80 34 70 40C60 44 45 38 30 40C25 36 22 32 20 28Z" fill="#f6eef4"/>
<g stroke="#f6eef4" stroke-width="2.2" fill="none">
<path d="M0 55C30 48 60 46 100 42C120 40 135 36 147 34"/>
<path d="M10 89C20 70 30 62 45 58"/><path d="M40 89C50 72 60 64 75 58"/><path d="M70 89C78 74 88 64 100 56"/><path d="M100 89C108 76 118 66 130 58"/><path d="M125 89C132 78 140 70 147 64"/>
<path d="M0 20C6 16 10 12 14 4"/><path d="M110 30C118 36 126 40 140 42"/>
</g>
<rect width="147.3" height="89.5" filter="url(#spk)"/>
<text x="6" y="79" font-size="5" fill="#333">100 μm</text>
<path d="M5 81H24" stroke="#333" stroke-width=".8"/>
</svg>

<!-- Control Asbt -->
<svg x="185" y="587" width="153" height="86.5">
<rect width="153" height="86.5" fill="#f6efeb"/>
<g fill="#dcc1b4" stroke="#b8693f" stroke-width=".8">
<rect x="0" y="10" width="13" height="55" rx="6"/><rect x="15" y="4" width="15" height="61" rx="7"/><rect x="32" y="9" width="14" height="56" rx="7"/><rect x="48" y="3" width="15" height="62" rx="7"/><rect x="65" y="6" width="14" height="59" rx="7"/><rect x="81" y="2" width="15" height="63" rx="7"/><rect x="98" y="7" width="14" height="58" rx="7"/><rect x="114" y="3" width="15" height="62" rx="7"/><rect x="131" y="6" width="14" height="59" rx="7"/><rect x="147" y="2" width="8" height="63" rx="4"/>
</g>
<rect y="54" width="153" height="22" fill="#d0b2a4"/>
<g fill="#f8f2ee"><circle cx="8" cy="62" r="2.5"/><circle cx="22" cy="68" r="2.5"/><circle cx="35" cy="60" r="2.2"/><circle cx="48" cy="66" r="2.6"/><circle cx="62" cy="61" r="2.2"/><circle cx="76" cy="68" r="2.5"/><circle cx="90" cy="60" r="2.3"/><circle cx="104" cy="66" r="2.5"/><circle cx="118" cy="61" r="2.2"/><circle cx="132" cy="67" r="2.5"/><circle cx="146" cy="61" r="2.3"/></g>
<rect y="76" width="153" height="5" fill="#efe3dc"/>
<rect y="81" width="153" height="5.5" fill="#c68664"/>
<rect width="153" height="86.5" filter="url(#spb)"/>
<text x="4" y="79" font-size="5" fill="#333">100 μm</text>
<path d="M3 81H22" stroke="#333" stroke-width=".8"/>
</svg>
<!-- DSS Asbt -->
<svg x="341.7" y="587" width="149.6" height="86.5">
<rect width="149.6" height="86.5" fill="#f5efec"/>
<g fill="#d6c4c3" stroke="#b06a48" stroke-width=".8">
<rect x="-3" y="20" width="14" height="50" rx="7"/><rect x="13" y="12" width="18" height="58" rx="8"/><rect x="33" y="16" width="16" height="54" rx="8"/><rect x="51" y="9" width="19" height="61" rx="9"/><rect x="72" y="12" width="17" height="58" rx="8"/><rect x="91" y="8" width="15" height="62" rx="7"/><rect x="108" y="10" width="18" height="60" rx="9"/><rect x="128" y="9" width="16" height="61" rx="8"/><rect x="146" y="12" width="8" height="58" rx="4"/>
</g>
<rect y="58" width="149.6" height="20" fill="#d0bab3"/>
<rect y="78" width="149.6" height="3" fill="#efe3dc"/>
<rect y="81" width="149.6" height="5.5" fill="#c88a68"/>
<rect width="149.6" height="86.5" filter="url(#spb)"/>
<text x="4" y="79" font-size="5" fill="#333">100 μm</text>
<path d="M3 81H22" stroke="#333" stroke-width=".8"/>
</svg>
<!-- DSS+Vp Asbt -->
<svg x="495.7" y="587" width="147.3" height="86.5">
<rect width="147.3" height="86.5" fill="#ede3df"/>
<path d="M17 0H147.3V20C120 18 100 12 80 14C60 16 40 10 17 6Z" fill="#a7b2d3"/>
<path d="M20 28C35 20 50 22 62 28C75 22 90 24 104 30C96 36 80 34 70 40C60 44 45 38 30 40C25 36 22 32 20 28Z" fill="#f6f0ee"/>
<rect y="45" width="147.3" height="41.5" fill="#c5cbe0" opacity=".8"/>
<g stroke="#f4eeec" stroke-width="2.2" fill="none">
<path d="M0 55C30 48 60 46 100 42C120 40 135 36 147 34"/>
<path d="M10 89C20 70 30 62 45 58"/><path d="M40 89C50 72 60 64 75 58"/><path d="M70 89C78 74 88 64 100 56"/><path d="M100 89C108 76 118 66 130 58"/><path d="M125 89C132 78 140 70 147 64"/>
</g>
<rect width="147.3" height="86.5" filter="url(#spb)"/>
<text x="6" y="78" font-size="5" fill="#333">100 μm</text>
<path d="M5 80H24" stroke="#333" stroke-width=".8"/>
</svg>
</svg>
</body></html>
